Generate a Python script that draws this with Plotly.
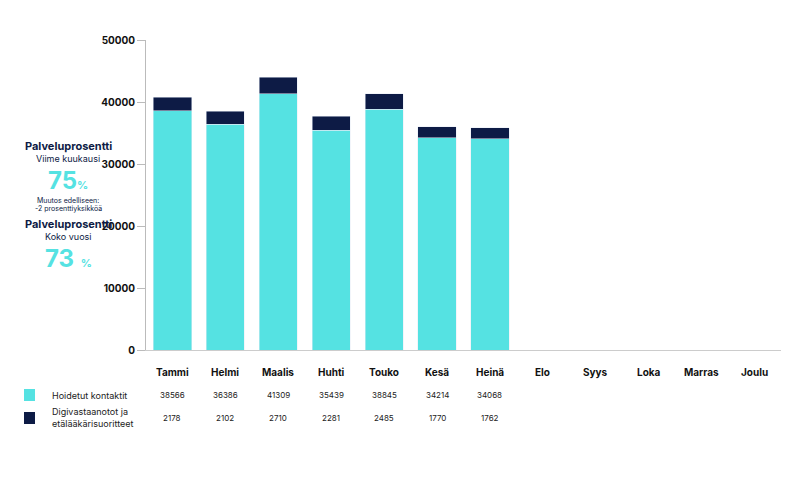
import plotly.graph_objects as go

months = ["Tammi","Helmi","Maalis","Huhti","Touko","Kesä","Heinä","Elo","Syys","Loka","Marras","Joulu"]
hoidetut = [38566,36386,41309,35439,38845,34214,34068]
digi = [2178,2102,2710,2281,2485,1770,1762]
series_names = ["Hoidetut kontaktit","Digivastaanotot ja<br>etälääkärisuoritteet"]
yticks = [0,10000,20000,30000,40000,50000]

CYAN = "#55E2E2"
NAVY = "#0D1B45"
FONT = "Inter"

ML, MR, MT, MB = 138, 22, 32, 135
H, Wd = 477, 795
PH = H - MT - MB
PW = Wd - ML - MR
def py(pix):
    return (H - MB - pix) / PH
def px(pix):
    return (pix - ML) / PW

fig = go.Figure()
fig.add_bar(x=months[:len(hoidetut)], y=hoidetut, marker_color=CYAN, name=series_names[0], width=0.72)
fig.add_bar(x=months[:len(digi)], y=digi, marker_color=NAVY, name=series_names[1], width=0.72)

fig.update_layout(
    barmode="stack", width=Wd, height=H, showlegend=False,
    plot_bgcolor="white", paper_bgcolor="white",
    margin=dict(l=ML, r=MR, t=MT, b=MB),
    font=dict(family=FONT, color="#111"),
    xaxis=dict(categoryorder="array", categoryarray=months, showticklabels=False,
               showline=True, linecolor="#ccc", linewidth=1, range=[-0.5, 11.5]),
    yaxis=dict(range=[0, 50000], tickvals=yticks, ticktext=[str(v) for v in yticks],
               showgrid=False, showline=True, linecolor="#bbb", ticks="outside",
               ticklen=8, tickcolor="#bbb", zeroline=False,
               tickfont=dict(size=10, family=FONT, color="#111", weight="bold")),
)

ann = []
def add(x, y, xref, text, size, color, xanchor="center", align="center"):
    ann.append(dict(x=x, y=y, xref=xref, yref="paper", text=text, showarrow=False,
                    xanchor=xanchor, yanchor="middle", align=align,
                    font=dict(size=size, color=color)))

for i, m in enumerate(months):
    add(m, py(364), "x", f"<b>{m}</b>", 10, "#111")
    if i < len(hoidetut):
        add(m, py(387), "x", str(hoidetut[i]), 8, "#222")
        add(m, py(410), "x", str(digi[i]), 8, "#222")
add(px(42), py(387), "paper", series_names[0], 9, "#222", "left", "left")
add(px(42), py(410), "paper", series_names[1], 9, "#222", "left", "left")

cx = px(60)
left = [
    (138, "<b>Palveluprosentti</b>", 11, NAVY),
    (150, "Viime kuukausi", 9, NAVY),
    (172, "<b>75</b><span style='font-size:11px'><b>%</b></span>", 24, CYAN),
    (192, "Muutos edelliseen:", 7, NAVY),
    (200, "-2 prosenttiyksikköä", 7, NAVY),
    (216, "<b>Palveluprosentti</b>", 11, NAVY),
    (228, "Koko vuosi", 9, NAVY),
    (250, "<b>73</b> <span style='font-size:11px'><b>%</b></span>", 24, CYAN),
]
for ypix, t, s, c in left:
    add(cx, py(ypix), "paper", t, s, c)
fig.update_layout(annotations=ann)

for ypix, col in [(387, CYAN), (410, NAVY)]:
    fig.add_shape(type="rect", xref="paper", yref="paper",
                  x0=px(16), x1=px(27), y0=py(ypix+6), y1=py(ypix-6),
                  fillcolor=col, line_width=0)

fig.write_html("out.html")
